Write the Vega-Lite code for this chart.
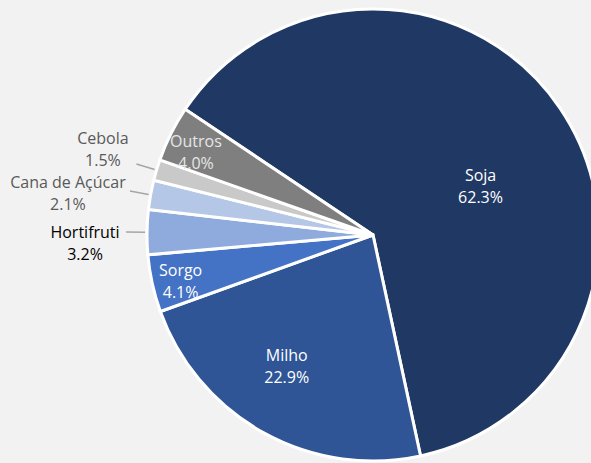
{
  "$schema": "https://vega.github.io/schema/vega-lite/v6.json",
  "autosize": {"type": "none"},
  "width": 436,
  "height": 456,
  "padding": {"left": 155, "top": 7, "right": 0, "bottom": 0},
  "background": "#F2F2F2",
  "config": {"view": {"stroke": null}},
  "data": {"values": [
    {"ordem": 1, "nome": "Soja", "valor": 62.3},
    {"ordem": 2, "nome": "Milho", "valor": 22.9},
    {"ordem": 3, "nome": "Sorgo", "valor": 4.1},
    {"ordem": 4, "nome": "Hortifruti", "valor": 3.2},
    {"ordem": 5, "nome": "Cana de Açúcar", "valor": 2.1},
    {"ordem": 6, "nome": "Cebola", "valor": 1.5},
    {"ordem": 7, "nome": "Outros", "valor": 4.0}
  ]},
  "transform": [
    {"stack": "valor", "groupby": [], "sort": [{"field": "ordem", "order": "ascending"}], "as": ["v0", "v1"]},
    {"calculate": "(datum.v0 + datum.v1) / 2", "as": "meio"},
    {"calculate": "[datum.nome, format(datum.valor, '.1f') + '%']", "as": "rotulo"}
  ],
  "layer": [
    {
      "mark": {"type": "arc", "outerRadius": 226, "stroke": "#FFFFFF", "strokeWidth": 3},
      "encoding": {
        "theta": {"field": "v0", "type": "quantitative", "stack": null, "scale": {"domain": [0, 100.1], "range": [-0.9809, 5.3023]}},
        "theta2": {"field": "v1"},
        "color": {"field": "nome", "type": "nominal", "legend": null,
          "scale": {"domain": ["Soja", "Milho", "Sorgo", "Hortifruti", "Cana de Açúcar", "Cebola", "Outros"],
                    "range": ["#203864", "#2F5597", "#4472C4", "#8FAADC", "#B4C7E7", "#C9C9C9", "#7F7F7F"]}}
      }
    },
    {
      "transform": [{"filter": "indexof(['Hortifruti', 'Cana de Açúcar', 'Cebola'], datum.nome) >= 0"}],
      "mark": {"type": "arc", "radius": 247, "radius2": 228, "stroke": "#A6A6A6", "strokeWidth": 1.5, "fill": null},
      "encoding": {
        "theta": {"field": "meio", "type": "quantitative", "stack": null},
        "theta2": {"field": "meio"}
      }
    },
    {
      "transform": [{"filter": "datum.nome == 'Soja'"}],
      "mark": {"type": "text", "radius": 130, "dy": 14, "font": "Open Sans", "fontSize": 16, "lineHeight": 22, "color": "#FFFFFF", "align": "center", "baseline": "middle"},
      "encoding": {"theta": {"field": "meio", "type": "quantitative", "stack": null}, "text": {"field": "rotulo"}}
    },
    {
      "transform": [{"filter": "datum.nome == 'Milho'"}],
      "mark": {"type": "text", "radius": 151, "dx": -13, "dy": -11, "font": "Open Sans", "fontSize": 16, "lineHeight": 22, "color": "#FFFFFF", "align": "center", "baseline": "middle"},
      "encoding": {"theta": {"field": "meio", "type": "quantitative", "stack": null}, "text": {"field": "rotulo"}}
    },
    {
      "transform": [{"filter": "datum.nome == 'Sorgo'"}],
      "mark": {"type": "text", "radius": 197, "dy": -6, "font": "Open Sans", "fontSize": 16, "lineHeight": 22, "color": "#FFFFFF", "align": "center", "baseline": "middle"},
      "encoding": {"theta": {"field": "meio", "type": "quantitative", "stack": null}, "text": {"field": "rotulo"}}
    },
    {
      "transform": [{"filter": "datum.nome == 'Outros'"}],
      "mark": {"type": "text", "radius": 198, "dy": -4, "font": "Open Sans", "fontSize": 16, "lineHeight": 22, "color": "#E6E6E6", "align": "center", "baseline": "middle"},
      "encoding": {"theta": {"field": "meio", "type": "quantitative", "stack": null}, "text": {"field": "rotulo"}}
    },
    {
      "transform": [{"filter": "datum.nome == 'Hortifruti'"}],
      "mark": {"type": "text", "radius": 288, "dy": 2, "font": "Open Sans", "fontSize": 16, "lineHeight": 22, "color": "#000000", "align": "center", "baseline": "middle"},
      "encoding": {"theta": {"field": "meio", "type": "quantitative", "stack": null}, "text": {"field": "rotulo"}}
    },
    {
      "transform": [{"filter": "datum.nome == 'Cana de Açúcar'"}],
      "mark": {"type": "text", "radius": 310, "dy": 3, "font": "Open Sans", "fontSize": 16, "lineHeight": 22, "color": "#595959", "align": "center", "baseline": "middle"},
      "encoding": {"theta": {"field": "meio", "type": "quantitative", "stack": null}, "text": {"field": "rotulo"}}
    },
    {
      "transform": [{"filter": "datum.nome == 'Cebola'"}],
      "mark": {"type": "text", "radius": 282, "dy": -15, "font": "Open Sans", "fontSize": 16, "lineHeight": 22, "color": "#595959", "align": "center", "baseline": "middle"},
      "encoding": {"theta": {"field": "meio", "type": "quantitative", "stack": null}, "text": {"field": "rotulo"}}
    }
  ]
}
